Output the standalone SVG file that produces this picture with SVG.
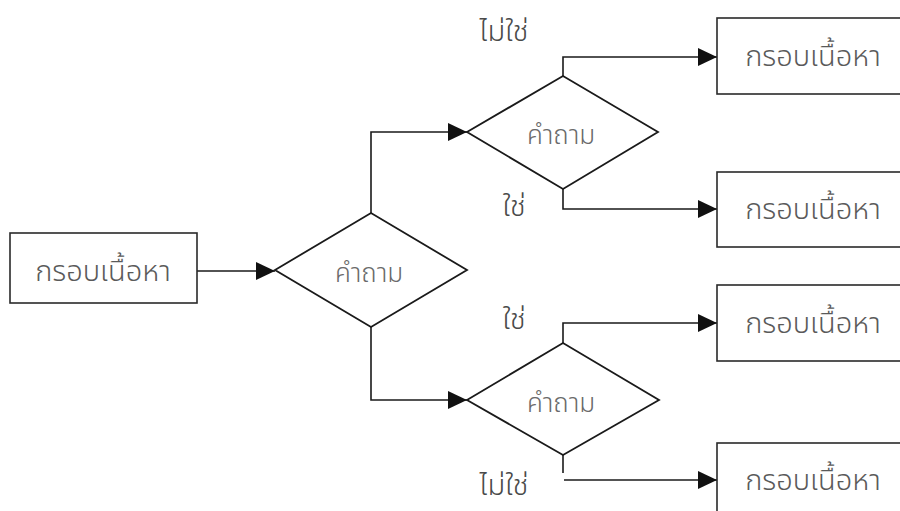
<svg xmlns="http://www.w3.org/2000/svg" width="900" height="511" viewBox="0 0 900 511">
  <style>
    .box { fill: #ffffff; stroke: #2a2a2a; stroke-width: 1.6; }
    .dia { fill: #ffffff; stroke: #1a1a1a; stroke-width: 1.8; }
    .wire { fill: none; stroke: #1a1a1a; stroke-width: 1.6; }
    .thai { font-family: "Noto Sans Thai", "Noto Sans", "DejaVu Sans", sans-serif; font-weight: 300; text-anchor: middle; }
    .t-box { font-size: 29px; fill: #5a5a5a; }
    .t-q { font-size: 26px; fill: #6a6a6a; }
    .t-lbl { font-size: 29px; fill: #4a4a4a; }
  </style>
  <defs>
    <marker id="arrow" markerUnits="userSpaceOnUse" markerWidth="19" markerHeight="18" refX="19" refY="9" orient="auto">
      <path d="M0,0 L19,9 L0,18 z" fill="#111111"/>
    </marker>
  </defs>
  <rect width="900" height="511" fill="#ffffff"/>

  <!-- connectors -->
  <g id="connectors">
    <path class="wire" d="M197,271 L275,271" marker-end="url(#arrow)"/>
    <path class="wire" d="M371,213 L371,132 L467,132" marker-end="url(#arrow)"/>
    <path class="wire" d="M371,327 L371,400 L467,400" marker-end="url(#arrow)"/>
    <path class="wire" d="M563,76 L563,57 L717,57" marker-end="url(#arrow)"/>
    <path class="wire" d="M563,189 L563,209 L717,209" marker-end="url(#arrow)"/>
    <path class="wire" d="M563,343 L563,323 L717,323" marker-end="url(#arrow)"/>
    <path class="wire" d="M563,455 L563,473"/>
    <path class="wire" d="M564,480 L717,480" marker-end="url(#arrow)"/>
  </g>

  <!-- branch labels -->
  <g id="labels">
    <text class="thai t-lbl" x="504" y="41">ไม่ใช่</text>
    <text class="thai t-lbl" x="514" y="216">ใช่</text>
    <text class="thai t-lbl" x="514" y="329">ใช่</text>
    <text class="thai t-lbl" x="504" y="495">ไม่ใช่</text>
  </g>

  <g id="start">
    <rect class="box" x="10" y="233" width="187" height="70"/>
    <text class="thai t-box" x="103" y="281">กรอบเนื้อหา</text>
  </g>

  <g id="q-main">
    <polygon class="dia" points="275,270 371,213 467,270 371,327"/>
    <text class="thai t-q" x="369" y="282">คำถาม</text>
  </g>

  <g id="q-upper">
    <polygon class="dia" points="467,132 563,76 658,132 563,189"/>
    <text class="thai t-q" x="561" y="144">คำถาม</text>
  </g>

  <g id="q-lower">
    <polygon class="dia" points="467,400 563,343 659,400 563,455"/>
    <text class="thai t-q" x="561" y="412">คำถาม</text>
  </g>

  <g id="out-1">
    <rect class="box" x="717" y="18" width="200" height="76"/>
    <text class="thai t-box" x="813" y="66">กรอบเนื้อหา</text>
  </g>

  <g id="out-2">
    <rect class="box" x="717" y="172" width="200" height="75"/>
    <text class="thai t-box" x="813" y="219">กรอบเนื้อหา</text>
  </g>

  <g id="out-3">
    <rect class="box" x="717" y="285" width="200" height="76"/>
    <text class="thai t-box" x="813" y="333">กรอบเนื้อหา</text>
  </g>

  <g id="out-4">
    <rect class="box" x="717" y="443" width="200" height="76"/>
    <text class="thai t-box" x="813" y="490">กรอบเนื้อหา</text>
  </g>
</svg>
